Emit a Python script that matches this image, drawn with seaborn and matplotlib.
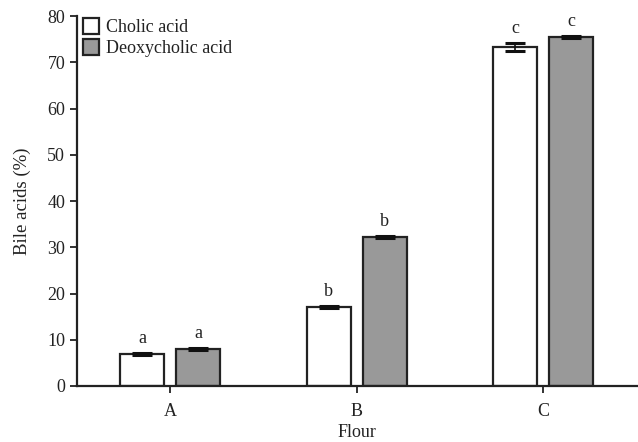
import matplotlib
matplotlib.use("Agg")
import matplotlib.pyplot as plt
import seaborn as sns
import pandas as pd
import numpy as np

flours = ["A", "B", "C"]
series = ["Cholic acid", "Deoxycholic acid"]
cholic = [6.9, 17.1, 73.3]
deoxy = [8.0, 32.2, 75.4]
cholic_err = [0.3, 0.3, 0.9]
deoxy_err = [0.3, 0.3, 0.2]
cholic_letters = ["a", "b", "c"]
deoxy_letters = ["a", "b", "c"]
yticks = [0, 10, 20, 30, 40, 50, 60, 70, 80]

sns.set_theme(style="ticks")
plt.rcParams['font.family'] = ['Liberation Serif', 'DejaVu Serif']

df = pd.DataFrame({
    "Flour": flours * 2,
    "Acid": [series[0]] * 3 + [series[1]] * 3,
    "Value": cholic + deoxy,
})

fig = plt.figure(figsize=(6.38, 4.42), dpi=100)
ax = fig.add_axes([0.1207, 0.1267, 0.877, 0.837])

sns.barplot(data=df, x="Flour", y="Value", hue="Acid", hue_order=series,
            palette=["white", "#999999"], edgecolor="#222222", linewidth=1.6,
            width=0.6, gap=0.22, errorbar=None, ax=ax, legend=True)

errs = [cholic_err, deoxy_err]
letters = [cholic_letters, deoxy_letters]
bar_containers = list(ax.containers)
for i, cont in enumerate(bar_containers):
    for j, bar in enumerate(cont.patches):
        x = bar.get_x() + bar.get_width() / 2
        h = bar.get_height()
        ax.errorbar(x, h, yerr=errs[i][j], color="#111111", capsize=7,
                    capthick=2.2, elinewidth=1.2, linestyle="none")
        ax.text(x, h + errs[i][j] + 1.3, letters[i][j], ha="center",
                va="bottom", fontsize=13, color="#222222")

ax.set_xlim(-0.5, 2.5)
ax.set_ylim(0, 80)
ax.set_yticks(yticks)
ax.set_xlabel("Flour", fontsize=13, labelpad=3, color="#222222")
ax.set_ylabel("Bile acids (%)", fontsize=13.5, labelpad=12, color="#222222")
ax.tick_params(axis="both", labelsize=13, colors="#222222", width=1.3, length=5)
ax.tick_params(axis="x", pad=7)
sns.despine(ax=ax)
for s in ["left", "bottom"]:
    ax.spines[s].set_linewidth(1.6)
    ax.spines[s].set_color("#222222")

leg = ax.legend(loc="upper left", bbox_to_anchor=(-0.012, 1.03), frameon=False,
                fontsize=13, handlelength=0.9, handleheight=1.0,
                handletextpad=0.4, labelspacing=0.15, borderaxespad=0.3)
for t in leg.get_texts():
    t.set_color("#222222")

fig.savefig("out.png", dpi=100)
